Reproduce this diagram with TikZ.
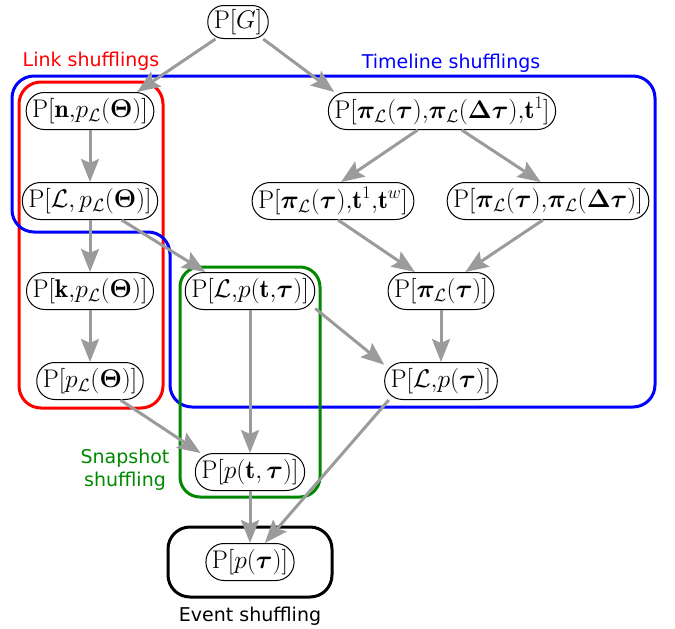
\RequirePackage{fix-cm}
\documentclass[tikz,border=0pt]{standalone}
\usepackage{amsmath}
\usepackage{bm}
\usepackage{fontspec}
\newfontfamily\labfont{DejaVu Sans}
\usetikzlibrary{arrows.meta,calc}
\definecolor{edgegray}{RGB}{155,155,155}
\definecolor{boxgreen}{RGB}{0,136,0}
\begin{document}
\begin{tikzpicture}[x=1pt,y=-1pt,
  pn/.style={draw=black, line width=1pt, fill=white, rounded corners=18pt,
    minimum height=37pt, inner xsep=6pt, inner ysep=0pt,
    font=\fontsize{25.5}{30}\selectfont},
  arr/.style={draw=edgegray, line width=3pt,
    -{Stealth[length=23pt,width=18pt,inset=4pt]}},
  grp/.style={line width=3pt, rounded corners=22pt},
  lab/.style={font=\labfont\fontsize{19}{23}\selectfont, inner sep=0pt}]
\useasboundingbox (0,0) rectangle (675,629);

% group boxes
\draw[grp, red] (19,82) rectangle (163,408);
\draw[grp, blue] (12,150) -- (12,76) -- (655,76) -- (655,407) -- (170,407)
  -- (170,232) -- (12,232) -- cycle;
\draw[grp, boxgreen, rounded corners=20pt] (180,267) rectangle (320,497);
\draw[grp, black] (168,527) rectangle (332,597);

% nodes
\node[pn, minimum height=33pt, rounded corners=16pt] (PG) at (238,22) {$\mathrm{P}[G]$};
\node[pn] (n) at (90,111) {$\mathrm{P}[\mathbf{n}{,}p_{\mathcal{L}}(\bm{\Theta})]$};
\node[pn] (L) at (90,201) {$\mathrm{P}[\mathcal{L},p_{\mathcal{L}}(\bm{\Theta})]$};
\node[pn] (k) at (90,291) {$\mathrm{P}[\mathbf{k}{,}p_{\mathcal{L}}(\bm{\Theta})]$};
\node[pn] (pL) at (90,381) {$\mathrm{P}[p_{\mathcal{L}}(\bm{\Theta})]$};
\node[pn] (T) at (442,111) {$\mathrm{P}[\bm{\pi}_{\mathcal{L}}(\bm{\tau}){,}\bm{\pi}_{\mathcal{L}}(\bm{\Delta\tau}){,}\mathbf{t}^1]$};
\node[pn] (tw) at (333,201) {$\mathrm{P}[\bm{\pi}_{\mathcal{L}}(\bm{\tau}){,}\mathbf{t}^1{,}\mathbf{t}^w]$};
\node[pn] (pd) at (548,201) {$\mathrm{P}[\bm{\pi}_{\mathcal{L}}(\bm{\tau}){,}\bm{\pi}_{\mathcal{L}}(\bm{\Delta\tau})]$};
\node[pn] (pi) at (441,291) {$\mathrm{P}[\bm{\pi}_{\mathcal{L}}(\bm{\tau})]$};
\node[pn] (Lp) at (441,381) {$\mathrm{P}[\mathcal{L}{,}p(\bm{\tau})]$};
\node[pn] (Lpt) at (250,291) {$\mathrm{P}[\mathcal{L}{,}p(\mathbf{t}{,}\bm{\tau})]$};
\node[pn] (pt) at (250,472) {$\mathrm{P}[p(\mathbf{t},\bm{\tau})]$};
\node[pn] (ptau) at (250,562) {$\mathrm{P}[p(\bm{\tau})]$};

% edges
\draw[arr] (PG.217) -- (n.22);
\draw[arr] (PG.326) -- (T.170);
\draw[arr] (n) -- (L);
\draw[arr] (L) -- (k);
\draw[arr] (k) -- (pL);
\draw[arr] (L.329) -- (Lpt.157);
\draw[arr] (T.218) -- (tw.67);
\draw[arr] (T.316) -- (pd.111);
\draw[arr] (tw.285) -- (pi.144);
\draw[arr] (pd.255) -- (pi.38);
\draw[arr] (pi) -- (Lp);
\draw[arr] (Lpt.345) -- (Lp.164);
\draw[arr] (Lpt) -- (pt);
\draw[arr] (pL.328) -- (pt.159);
\draw[arr] (pt) -- (ptau);
\draw[arr] (Lp.200) -- (ptau.52);

% labels
\node[lab, text=red] (lsh) at (91,61) {Link shufflings};
\node[lab, text=blue] (tsh) at (451,63) {Timeline shufflings};
\node[lab, text=boxgreen, align=center] (ssh) at (125,470) {Snapshot\\shuffling};
\node[lab, text=black] (esh) at (250,616) {Event shuffling};
\end{tikzpicture}
\end{document}
